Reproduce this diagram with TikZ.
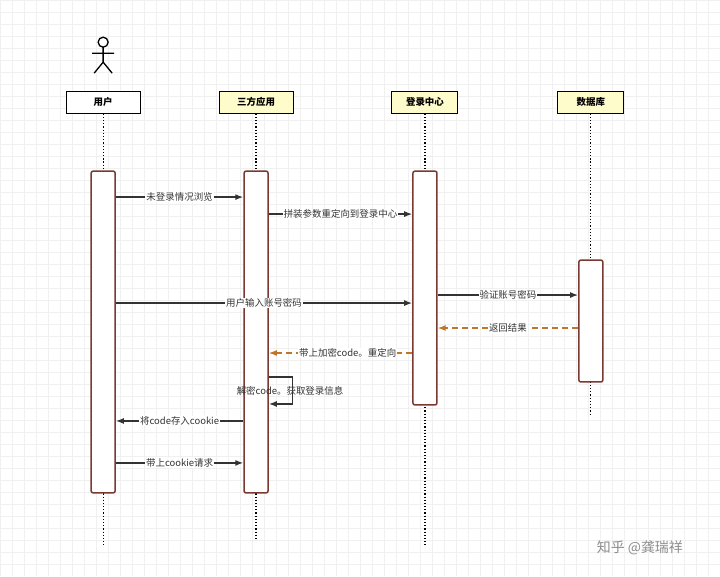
\documentclass[tikz,border=0pt]{standalone}
\usepackage{fontspec}
\setmainfont{Noto Sans CJK SC}
\usetikzlibrary{arrows.meta}
\definecolor{boxred}{HTML}{7A3A32}
\definecolor{retorange}{HTML}{C0762A}
\definecolor{msggray}{HTML}{333333}
\tikzset{
  head/.style={draw=black, line width=1bp, fill=#1, minimum width=74bp, minimum height=22bp, font=\fontsize{9.5}{10}\selectfont\bfseries, inner sep=0pt},
  act/.style={draw=boxred, line width=1.5bp, fill=white, rounded corners=2bp, minimum width=24bp, inner sep=0pt},
  life/.style={dotted, line width=1.2bp},
  msg/.style={-{Latex[length=8bp,width=6bp]}, msggray, line width=1.4bp},
  ret/.style={-{Latex[length=8bp,width=6bp]}, retorange, line width=1.4bp, dash pattern=on 6bp off 4bp},
  lbl/.style={fill=white, inner sep=1pt, text=msggray, font=\fontsize{9.5}{11}\selectfont},
}
\begin{document}
\begin{tikzpicture}[x=1bp,y=-1bp]
  % background and grid
  \fill[white] (0,0) rectangle (720,576);
  \draw[black!6] (0,0) grid[step=12bp] (720,576);
  \useasboundingbox (0,0) rectangle (720,576);
  %Actor
  \draw[line width=1.3bp] (103,42) circle (5);
  \draw[line width=1.3bp] (103,47) -- (103,62) (92,53) -- (114,53) (103,62) -- (94,73) (103,62) -- (112,73);
  %Heads
  \node[head=white] (user) at (103,102) {用户};
  \node[head=yellow!20] (app) at (256,102) {三方应用};
  \node[head=yellow!20, minimum width=66bp] (sso) at (425,102) {登录中心};
  \node[head=yellow!20, minimum width=66bp] (db) at (591,102) {数据库};
  %Lifelines
  \coordinate (userEnd) at (103,545);
  \coordinate (appEnd) at (256,540);
  \coordinate (ssoEnd) at (425,545);
  \coordinate (dbEnd) at (591,415);
  \draw[life] (user) -- (userEnd);
  \draw[life] (app) -- (appEnd);
  \draw[life] (sso) -- (ssoEnd);
  \draw[life] (db) -- (dbEnd);
  %Activations
  \node[act, minimum height=322bp] (userAct) at (103,332) {};
  \node[act, minimum height=322bp] (appAct) at (256,332) {};
  \node[act, minimum height=234bp] (ssoAct) at (425,288) {};
  \node[act, minimum height=122bp] (dbAct) at (591,321) {};
  %Messages
  \draw[msg] (userAct.east |- 0,197) -- node[lbl] {未登录情况浏览} (appAct.west |- 0,197);
  \draw[msg] (appAct.east |- 0,214) -- node[lbl] {拼装参数重定向到登录中心} (ssoAct.west |- 0,214);
  \draw[msg] (userAct.east |- 0,303) -- node[lbl] {用户输入账号密码} (ssoAct.west |- 0,303);
  \draw[msg] (ssoAct.east |- 0,295) -- node[lbl] {验证账号密码} (dbAct.west |- 0,295);
  \draw[ret] (dbAct.west |- 0,328) -- node[lbl] {返回结果} (ssoAct.east |- 0,328);
  \draw[ret] (ssoAct.west |- 0,353) -- node[lbl, pos=0.45] {带上加密code。重定向} (appAct.east |- 0,353);
  \draw[msg] (appAct.east |- 0,377) -- ++(24,0) -- ++(0,27) -- (appAct.east |- 0,404);
  \node[lbl, fill=none] (decode) at (290,391) {解密code。获取登录信息};
  \draw[msg] (appAct.west |- 0,421) -- node[lbl] {将code存入cookie} (userAct.east |- 0,421);
  \draw[msg] (userAct.east |- 0,463) -- node[lbl] {带上cookie请求} (appAct.west |- 0,463);
  %Watermark
  \node[text=black!45, font=\fontsize{14}{16}\selectfont] (mark) at (640,548) {知乎 @龚瑞祥};
\end{tikzpicture}
\end{document}
